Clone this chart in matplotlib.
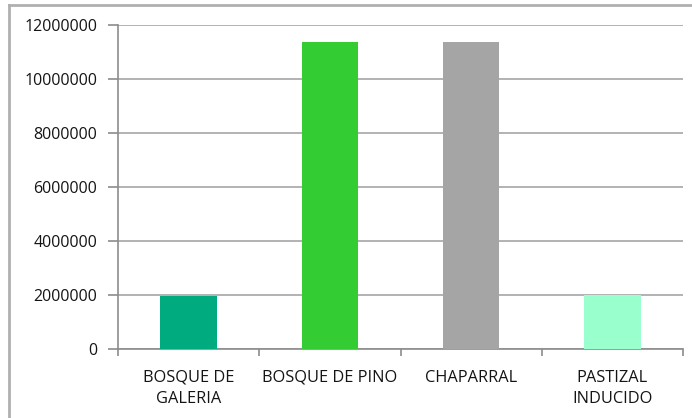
import matplotlib.pyplot as plt
from matplotlib.lines import Line2D
from matplotlib.ticker import FixedLocator, NullFormatter

categories = ["BOSQUE DE\nGALERIA", "BOSQUE DE PINO", "CHAPARRAL", "PASTIZAL\nINDUCIDO"]
values = [1970000, 11380000, 11380000, 2000000]
colors = ["#00AB80", "#33CC33", "#A5A5A5", "#99FFCC"]
yticks = [0, 2000000, 4000000, 6000000, 8000000, 10000000, 12000000]

plt.rcParams["font.family"] = ["Open Sans", "DejaVu Sans"]

W, H = 692, 418
fig = plt.figure(figsize=(W / 100, H / 100), dpi=100)
ax = fig.add_axes([118 / W, 1 - 349 / H, (683 - 118) / W, (349 - 25) / H])

x = list(range(len(categories)))
ax.bar(x, values, width=0.4, color=colors, zorder=3)

ax.set_xlim(-0.5, len(categories) - 0.5)
ax.set_ylim(0, 12000000)
ax.set_yticks(yticks)
ax.set_yticklabels([str(v) for v in yticks], fontsize=11.5, color="#141414")
ax.yaxis.grid(True, color="#A6A6A6", linewidth=1.2, zorder=0)

# category labels centred, tick marks at the boundaries
ax.set_xticks(x)
ax.set_xticklabels(categories, fontsize=11.8, color="#141414", linespacing=1.45)
ax.tick_params(axis="x", length=0, pad=15)
ax.xaxis.set_minor_locator(FixedLocator([i - 0.5 for i in range(len(categories) + 1)]))
ax.xaxis.set_minor_formatter(NullFormatter())
ax.tick_params(axis="x", which="minor", length=5, color="#8C8C8C", width=1.2)
ax.tick_params(axis="y", length=7, color="#8C8C8C", width=1.2, pad=8)

for side in ["top", "right"]:
    ax.spines[side].set_visible(False)
for side in ["left", "bottom"]:
    ax.spines[side].set_color("#8C8C8C")
    ax.spines[side].set_linewidth(1.2)

# outer chart border (only top and left edges show in the crop)
fig.add_artist(Line2D([9 / W, 1], [1 - 5 / H, 1 - 5 / H], color="#B0B0B0", linewidth=2,
                      transform=fig.transFigure))
fig.add_artist(Line2D([9 / W, 9 / W], [0, 1 - 5 / H], color="#B0B0B0", linewidth=2,
                      transform=fig.transFigure))

fig.savefig("out.png", dpi=100)
